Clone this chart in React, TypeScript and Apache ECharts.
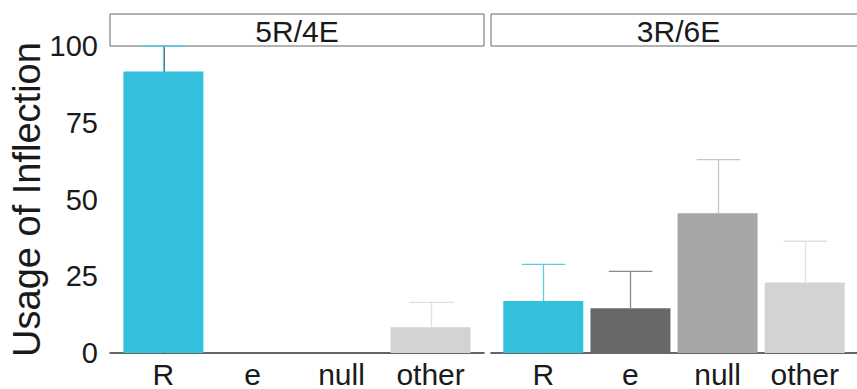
import React, { useEffect, useRef } from "react";
import * as echarts from "echarts";

const categories = ["R", "e", "null", "other"];
const panelNames = ["5R/4E", "3R/6E"];
const meanLeft = [91.7, 0, 0, 8.4];
const upperLeft = [100, 0, 0, 16.5];
const meanRight = [16.9, 14.6, 45.5, 23.0];
const upperRight = [28.9, 26.6, 63.0, 36.4];
const yTicks = [0, 25, 50, 75, 100];
const barColors = ["#33C0DC", "#686868", "#A6A6A6", "#D3D3D3"];
const errColors = ["#5ACDE5", "#8A8A8A", "#C6C6C6", "#E0E0E0"];
const yTitle = "Usage of Inflection";

const FONT = "'Liberation Sans', Arial, sans-serif";

export default function App() {
  const ref = useRef<HTMLDivElement>(null);
  useEffect(() => {
    if (!ref.current) return;
    const chart = echarts.init(ref.current, null, { renderer: "svg" });
    const panelTop = 46;
    const panelH = 308;
    const lefts = [110, 491];
    const widths = [374, 375];
    const means = [meanLeft, meanRight];
    const uppers = [upperLeft, upperRight];

    const grids = lefts.map((l, i) => ({ left: l, top: panelTop, width: widths[i], height: panelH }));
    const xAxes = lefts.map((_, i) => ({
      type: "value",
      gridIndex: i,
      min: -0.6,
      max: 3.6,
      splitLine: { show: false },
      axisTick: { show: false },
      axisLine: { show: true, onZero: false, lineStyle: { color: "#333", width: 1.5 } },
      axisLabel: {
        customValues: [0, 1, 2, 3],
        formatter: (v: number) => categories[Math.round(v)] ?? "",
        color: "#1a1a1a",
        fontSize: 30,
        fontFamily: FONT,
        margin: 6,
      },
    }));
    const yAxes = lefts.map((_, i) => ({
      type: "value",
      gridIndex: i,
      min: yTicks[0],
      max: yTicks[yTicks.length - 1],
      interval: 25,
      splitLine: { show: false },
      axisTick: { show: false },
      axisLine: { show: i === 0, lineStyle: { color: "#333", width: 1.5 } },
      axisLabel: {
        show: i === 0,
        color: "#1a1a1a",
        fontSize: 29,
        fontFamily: FONT,
        margin: 12,
      },
      name: i === 0 ? yTitle : "",
      nameLocation: "middle",
      nameGap: 64,
      nameTextStyle: { fontSize: 38, color: "#1a1a1a", fontFamily: FONT },
    }));

    const series: any[] = [];
    [0, 1].forEach((p) => {
      series.push({
        type: "bar",
        xAxisIndex: p,
        yAxisIndex: p,
        barWidth: 80,
        data: means[p].map((v, k) => ({ value: [k, v], itemStyle: { color: barColors[k] } })),
      });
      series.push({
        type: "custom",
        xAxisIndex: p,
        yAxisIndex: p,
        clip: false,
        data: means[p].map((v, k) => [k, v, uppers[p][k]]),
        z: 3,
        renderItem: (params: any, api: any) => {
          const k = api.value(0);
          const v = api.value(1);
          const u = api.value(2);
          if (u <= v) return null;
          const a = api.coord([k, v]);
          const b = api.coord([k, u]);
          const half = api.size([0.25, 0])[0];
          const cx = Math.round(a[0]) + 0.5;
          const style = { stroke: errColors[k], lineWidth: 1.3, fill: null };
          return {
            type: "group",
            children: [
              { type: "line", shape: { x1: cx, y1: a[1], x2: cx, y2: b[1] }, style },
              { type: "line", shape: { x1: cx - half, y1: b[1], x2: cx + half, y2: b[1] }, style },
            ],
          };
        },
      });
    });

    const graphics: any[] = [];
    lefts.forEach((l, i) => {
      graphics.push({
        type: "rect",
        z: 0,
        shape: { x: l, y: 14, width: widths[i], height: 32 },
        style: { fill: "#fff", stroke: "#666", lineWidth: 1 },
      });
      graphics.push({
        type: "text",
        x: l + widths[i] / 2,
        y: 31,
        style: {
          text: panelNames[i],
          fill: "#1a1a1a",
          fontSize: 30,
          fontFamily: FONT,
          align: "center",
          verticalAlign: "middle",
        },
      });
    });

    chart.setOption({
      animation: false,
      backgroundColor: "#fff",
      grid: grids,
      xAxis: xAxes,
      yAxis: yAxes,
      series,
      graphic: graphics,
    });
    return () => chart.dispose();
  }, []);
  return (
    <div
      ref={ref}
      style={{ position: "fixed", left: 0, top: 0, width: 857, height: 389 }}
    />
  );
}
